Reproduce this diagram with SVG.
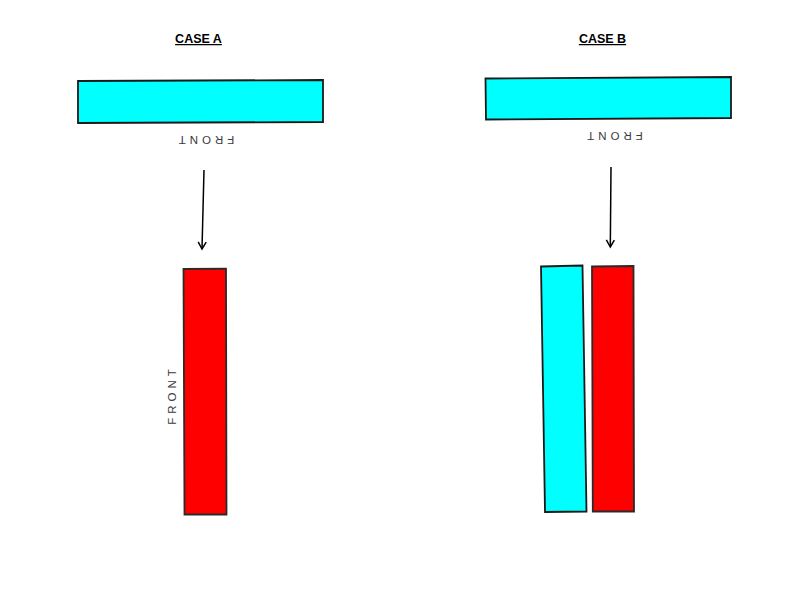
<svg xmlns="http://www.w3.org/2000/svg" width="800" height="600" viewBox="0 0 800 600">
<style>
.title{font-family:"Liberation Sans",Arial,sans-serif;font-size:12.5px;font-weight:bold;fill:#000;text-decoration:underline}
.front{font-family:"Liberation Sans",Arial,sans-serif;font-size:11.5px;fill:#3a3a3a;letter-spacing:4px}
.cyan{fill:#00FFFF;stroke:#1a1a1a;stroke-width:1.8}
.red{fill:#FF0000;stroke:#2a2a2a;stroke-width:1.8}
.conn{stroke:#000;stroke-width:1.5;fill:none}
</style>
<defs>
<marker id="arr" markerWidth="10" markerHeight="10" refX="8" refY="5" orient="auto" markerUnits="userSpaceOnUse">
<path d="M1,1 L8,5 L1,9" fill="none" stroke="#000" stroke-width="1.5"/>
</marker>
</defs>
<rect width="800" height="600" fill="#fff"/>
<g id="caseA">
<text class="title" x="198.5" y="43" text-anchor="middle">CASE A</text>
<g id="barA">
<polygon class="cyan" points="78,81 323,80 323,122 78,123"/>
<text class="front" transform="translate(204.5,135.5) rotate(180)" text-anchor="middle">FRONT</text>
</g>
<g id="redA">
<polygon class="red" points="183.5,269 226,268.7 226.5,514.5 184.5,514.5"/>
<text class="front" transform="translate(175.5,395) rotate(-90)" text-anchor="middle">FRONT</text>
</g>
</g>
<g id="caseB">
<text class="title" x="602.5" y="43" text-anchor="middle">CASE B</text>
<g id="barB">
<polygon class="cyan" points="485.5,78.5 731,77 731,118 486,119.5"/>
<text class="front" transform="translate(613,132) rotate(180)" text-anchor="middle">FRONT</text>
</g>
<g id="cyanB">
<polygon class="cyan" points="541,266.5 582.5,265.5 586.5,511.5 545,512"/>
</g>
<g id="redB">
<polygon class="red" points="592,266.5 633.5,266 634,511.5 592.8,511.5"/>
</g>
</g>
<g id="connectors">
<line class="conn" x1="204" y1="170" x2="202" y2="249" marker-end="url(#arr)"/>
<line class="conn" x1="611" y1="167" x2="610.3" y2="247" marker-end="url(#arr)"/>
</g>
</svg>
